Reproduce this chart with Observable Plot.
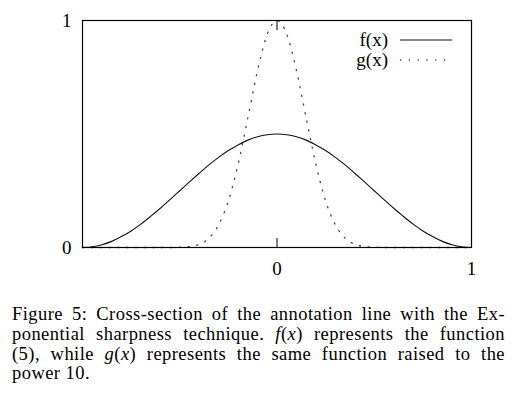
<!DOCTYPE html>
<html><head><meta charset="utf-8">
<script src="https://cdn.jsdelivr.net/npm/d3@7"></script>
<script src="https://cdn.jsdelivr.net/npm/@observablehq/plot@0.6"></script>
<style>
body{margin:0;background:#fff;}
#chart svg{display:block;}
#cap{font-family:"Liberation Serif",serif;font-size:18.5px;letter-spacing:0.45px;line-height:19.8px;color:#000;width:493px;margin-left:12px;margin-top:15px;}
#cap .l{display:block;text-align:justify;text-align-last:justify;white-space:nowrap;}
#cap .last{text-align-last:left;}
</style></head>
<body>
<div id="chart"></div>
<div id="cap">
<span class="l">Figure 5: Cross-section of the annotation line with the Ex-</span>
<span class="l">ponential sharpness technique. <i>f</i>(<i>x</i>) represents the function</span>
<span class="l">(5), while <i>g</i>(<i>x</i>) represents the same function raised to the</span>
<span class="l last">power 10.</span>
</div>
<script>
const xs = [-1,-0.95,-0.9,-0.85,-0.8,-0.75,-0.7,-0.65,-0.6,-0.55,-0.5,-0.45,-0.4,-0.35,-0.3,-0.25,-0.2,-0.15,-0.1,-0.05,0,
  0.05,0.1,0.15,0.2,0.25,0.3,0.35,0.4,0.45,0.5,0.55,0.6,0.65,0.7,0.75,0.8,0.85,0.9,0.95,1];
const fVals = [0,0.003,0.012,0.027,0.048,0.073,0.103,0.137,0.173,0.211,0.25,0.289,0.327,0.364,0.397,0.427,0.452,0.473,0.488,0.497,0.5,
  0.497,0.488,0.473,0.452,0.427,0.397,0.364,0.327,0.289,0.25,0.211,0.173,0.137,0.103,0.073,0.048,0.027,0.012,0.003,0];
const gVals = [0,0,0,0,0,0,0,0,0,0,0.001,0.004,0.014,0.041,0.1,0.205,0.367,0.571,0.78,0.94,1,
  0.94,0.78,0.571,0.367,0.205,0.1,0.041,0.014,0.004,0.001,0,0,0,0,0,0,0,0,0,0];
const xTickLabels = [0,1];
const yTickLabels = [0,1];
const seriesNames = ["f(x)","g(x)"];

const data = xs.map((x,i)=>({x, f:fVals[i], g:gVals[i]}));
const W = 517, H = 290, mL = 82, mR = 46, mT = 20, mB = 43;
const fmt = d => String(d);
const chart = Plot.plot({
  width:W, height:H, marginLeft:mL, marginRight:mR, marginTop:mT, marginBottom:mB,
  x:{domain:[-1,1]}, y:{domain:[0,1]},
  style:{fontFamily:"Liberation Serif", fontSize:"19px", color:"#000", background:"#fff"},
  marks:[
    Plot.line(data,{x:"x",y:"g",stroke:"#444",strokeWidth:1.3,strokeDasharray:"1.2,7.6",curve:"monotone-x"}),
    Plot.line(data,{x:"x",y:"f",stroke:"#111",strokeWidth:1.1,curve:"monotone-x"}),
    Plot.frame({stroke:"#000", strokeWidth:1.2}),
    Plot.axisX({ticks:xTickLabels, tickSize:0, tickPadding:14, fontSize:19, tickFormat:fmt, label:null}),
    Plot.axisX({ticks:[0], tickSize:-9, tickFormat:()=>"", label:null}),
    Plot.axisX({ticks:[0], anchor:"top", tickSize:-9, tickFormat:()=>"", label:null}),
    Plot.axisY({ticks:yTickLabels, tickSize:0, tickPadding:11, fontSize:19, tickFormat:fmt, label:null})
  ]
});
document.getElementById("chart").appendChild(chart);

// legend (inside the frame, top right)
const svg = d3.select(chart);
const right = W - mR;
const leg = svg.append("g").attr("font-family","Liberation Serif").attr("font-size",19);
seriesNames.forEach((name,i)=>{
  const y = mT + 20 + i*20;
  leg.append("text").attr("x", right - 83).attr("y", y).attr("dy","0.33em")
     .attr("text-anchor","end").attr("fill","#000").text(name);
  leg.append("line").attr("x1", right - 71).attr("x2", right - 19).attr("y1", y).attr("y2", y)
     .attr("stroke", i===0 ? "#111" : "#444").attr("stroke-width", i===0 ? 1.1 : 1.3)
     .attr("stroke-dasharray", i===0 ? null : "1.2,7.6");
});
</script>
</body></html>
